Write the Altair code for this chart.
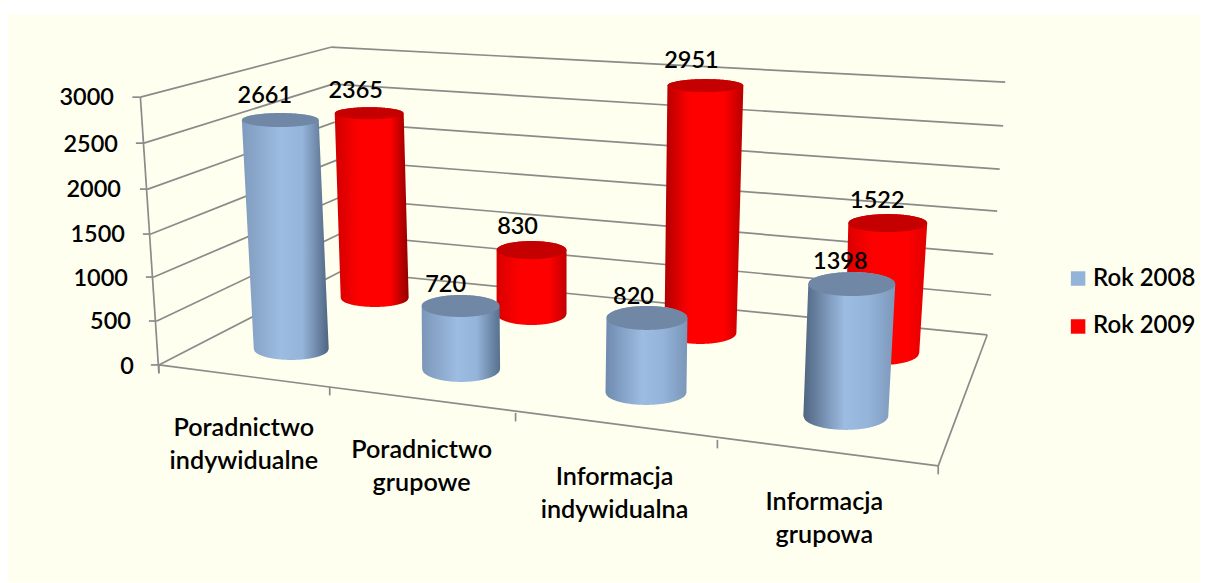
import numpy as np
import pandas as pd
import altair as alt

# ---- chart values
categories = ["Poradnictwo\nindywidualne", "Poradnictwo\ngrupowe", "Informacja\nindywidualna", "Informacja\ngrupowa"]
rok_2008 = [2661, 720, 820, 1398]
rok_2009 = [2365, 830, 2951, 1522]
value_ticks = [3000, 2500, 2000, 1500, 1000, 500, 0]
series_names = ["Rok 2008", "Rok 2009"]

# ---- perspective (image pixels)
FONT = "Lato"
wall_front = [(139.5, 97), (143, 143), (147, 189), (150, 234), (153, 277), (156, 321), (158, 365)]
wall_back = [(330, 47), (332, 84), (334, 122), (336, 160), (337.5, 198), (339, 234), (341, 271)]
wall_right = [(1005, 82), (1003, 125.7), (999.5, 169), (997, 211), (993, 254), (991, 295), (987, 335)]
tick_lab_pos = [(113, 98), (117, 145), (120, 190), (124, 235), (127, 279), (130, 322), (133, 367)]
floor_ticks = [(158, 365), (329, 387), (515, 413), (717, 440), (938, 466)]
cat_pos = [(243, 428), (421, 450), (614, 477), (824, 502)]

blue_geo = dict(bx=[290.5, 460.5, 645.5, 845.5], by=[349, 369, 392.5, 416], brx=[37.5, 39, 40.5, 42.5], bry=[11, 13, 12.5, 14],
                tx=[279.5, 460, 646.5, 851.5], trx=[38.5, 39, 40.5, 43.5], ry=[7, 11, 12, 12],
                k=[.0861, .0875, .0909, .0944], lab=[(264, 96), (445, 285), (633, 297), (840, 262)],
                left=["#7f9bbd", "#7b96b8", "#6f8baf", "#4f6581"], right=["#4f6580", "#56708c", "#7a96b8", "#7c98ba"])
red_geo = dict(bx=[374, 531, 700, 882], by=[298, 314, 333, 353], brx=[34, 35, 36, 37], bry=[9, 11, 11, 12],
               tx=[368.5, 531, 705, 887.5], trx=[34.5, 35, 38, 39.5], ry=[6, 9, 6.5, 9],
               k=[.0782, .0771, .0839, .0854], lab=[(355, 91), (517, 227), (691, 61), (877, 201)],
               left=["#d00000", "#d80000", "#b00000", "#d80000"], right=["#900000", "#c00000", "#b80000", "#e00000"])

X = alt.X("x:Q", scale=alt.Scale(domain=[8, 1200]), axis=None)
Y = alt.Y("y:Q", scale=alt.Scale(domain=[583, 8]), axis=None)


def grad(stops):
    return alt.LinearGradient(gradient="linear", x1=0, x2=1, y1=0, y2=0,
                              stops=[alt.GradientStop(offset=o, color=c) for o, c in stops])


def blue_body(left, right):
    return grad([(0, left), (.45, "#9dbce2"), (.7, "#95b4da"), (1, right)])


def red_body(left, right):
    return grad([(0, left), (.3, "#fb0000"), (.4, "#ff0000"), (.75, "#ff0000"), (1, right)])


def arc(x, cx, rx):
    return np.sqrt(np.clip(1 - ((x - cx) / rx) ** 2, 0, 1))


def cylinder(value, g, i, body, cap):
    bx, by, brx, bry = g["bx"][i], g["by"][i], g["brx"][i], g["bry"][i]
    tx, trx, ry = g["tx"][i], g["trx"][i], g["ry"][i]
    ty = by - value * g["k"][i]
    xs = np.unique(np.concatenate([
        np.linspace(tx - trx, tx + trx, 61), np.linspace(bx - brx, bx + brx, 61)]))
    upper, lower = [], []
    for x in xs:
        if tx - trx <= x <= tx + trx:
            up = ty - ry * arc(x, tx, trx)
        elif x < tx - trx:
            up = np.interp(x, [bx - brx, tx - trx], [by, ty])
        else:
            up = np.interp(x, [tx + trx, bx + brx], [ty, by])
        if bx - brx <= x <= bx + brx:
            lo = by + bry * arc(x, bx, brx)
        elif x < bx - brx:
            lo = np.interp(x, [tx - trx, bx - brx], [ty, by])
        else:
            lo = np.interp(x, [bx + brx, tx + trx], [by, ty])
        upper.append(up)
        lower.append(lo)
    side = pd.DataFrame({"x": xs, "y": upper, "y2": lower})
    cx = np.linspace(tx - trx, tx + trx, 81)
    top = pd.DataFrame({"x": cx, "y": ty - ry * arc(cx, tx, trx), "y2": ty + ry * arc(cx, tx, trx)})
    return [
        alt.Chart(side).mark_area(color=body, interpolate="linear").encode(x=X, y=Y, y2="y2:Q"),
        alt.Chart(top).mark_area(color=cap, interpolate="linear").encode(x=X, y=Y, y2="y2:Q"),
    ]


# background panel
panel = alt.Chart(pd.DataFrame({"x": [7], "x2": [1200], "y": [14], "y2": [583]})).mark_rect(color="#FFFFEF").encode(
    x=X, x2="x2:Q", y=Y, y2="y2:Q")

# frame lines
segs = []
for (a, b), (c, d), (e, f) in zip(wall_front, wall_back, wall_right):
    segs += [(a, b, c, d), (c, d, e, f), (a - 8, b, a, b)]
segs += [(139.5, 97, 158, 373), (158, 365, 938, 466), (938, 466, 987, 335)]
segs += [(x, y, x, y + 8.5) for x, y in floor_ticks]
lines = pd.DataFrame(segs, columns=["x", "y", "x2", "y2"])
frame = alt.Chart(lines).mark_rule(color="#8b8b8b", strokeWidth=1.7).encode(x=X, y=Y, x2="x2:Q", y2="y2:Q")

layers = [panel, frame]
for i, v in enumerate(rok_2009):
    layers += cylinder(v, red_geo, i, red_body(red_geo["left"][i], red_geo["right"][i]), "#c40000")
for i, v in enumerate(rok_2008):
    layers += cylinder(v, blue_geo, i, blue_body(blue_geo["left"][i], blue_geo["right"][i]), "#7088a6")

# texts
txt = dict(font=FONT, fontSize=23.5, fontWeight=600, color="#000000")
val_df = pd.DataFrame({
    "x": [p[0] for p in blue_geo["lab"] + red_geo["lab"]],
    "y": [p[1] for p in blue_geo["lab"] + red_geo["lab"]],
    "t": [str(v) for v in rok_2008 + rok_2009]})
layers.append(alt.Chart(val_df).mark_text(align="center", baseline="middle", **txt).encode(x=X, y=Y, text="t:N"))

tick_df = pd.DataFrame({"x": [p[0] for p in tick_lab_pos], "y": [p[1] for p in tick_lab_pos],
                        "t": [str(v) for v in value_ticks]})
layers.append(alt.Chart(tick_df).mark_text(align="right", baseline="middle", **txt).encode(x=X, y=Y, text="t:N"))

cat_txt = {**txt, "fontSize": 25.2}
cat_df = pd.DataFrame({"x": [p[0] for p in cat_pos], "y": [p[1] for p in cat_pos], "t": categories})
layers.append(alt.Chart(cat_df).mark_text(align="center", baseline="middle", lineBreak="\n", lineHeight=33, **cat_txt)
              .encode(x=X, y=Y, text="t:N"))

leg_df = pd.DataFrame({"x": [1078, 1078], "y": [278.5, 326.5], "tx": [1093, 1093], "t": series_names,
                       "c": ["#94b3d9", "#ff0000"]})
layers.append(alt.Chart(leg_df).mark_square(size=210, opacity=1).encode(x=X, y=Y, color=alt.Color("c:N", scale=None)))
layers.append(alt.Chart(leg_df).mark_text(align="left", baseline="middle", **{**txt, "fontSize": 24}).encode(
    x=alt.X("tx:Q", scale=alt.Scale(domain=[8, 1200]), axis=None), y=Y, text="t:N"))

chart = alt.layer(*layers).properties(width=1192, height=575, padding=0, background="#ffffff").configure_view(stroke=None)
chart.save("out.html", embed_options={"renderer": "svg", "actions": False})
